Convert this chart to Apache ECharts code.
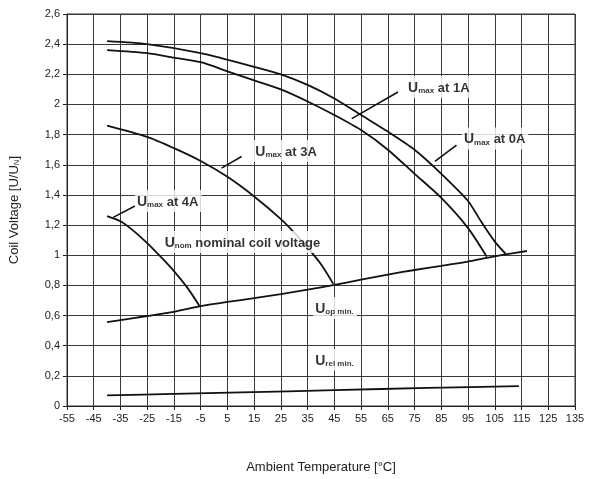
<!DOCTYPE html>
<html><head><meta charset="utf-8">
<script src="https://cdn.jsdelivr.net/npm/echarts@6/dist/echarts.min.js"></script>
<style>html,body{margin:0;padding:0;background:#fff}#c{width:594px;height:479px}</style>
</head><body><div id="c"></div>
<script>
// Axis settings
const xMin = -55, xMax = 135, xStep = 10;
const yMin = 0, yMax = 2.6, yStep = 0.2;

// U_max at 0A
const umax0A_T = [-40, -25, -5, 15, 25, 35, 45, 55, 65, 75, 85, 95, 100, 105, 109];
const umax0A_V = [2.42, 2.40, 2.34, 2.25, 2.20, 2.13, 2.04, 1.93, 1.82, 1.70, 1.54, 1.36, 1.22, 1.09, 1.01];
// U_max at 1A
const umax1A_T = [-40, -25, -15, -5, 5, 15, 25, 35, 45, 55, 65, 75, 85, 95, 102];
const umax1A_V = [2.36, 2.34, 2.31, 2.28, 2.22, 2.16, 2.10, 2.02, 1.93, 1.83, 1.70, 1.54, 1.38, 1.18, 0.99];
// U_max at 3A
const umax3A_T = [-40, -25, -15, -5, 5, 15, 25, 30, 35, 40, 44.6];
const umax3A_V = [1.86, 1.785, 1.71, 1.625, 1.52, 1.39, 1.24, 1.15, 1.05, 0.94, 0.81];
// U_max at 4A
const umax4A_T = [-40, -35, -30, -25, -20, -15, -10, -5.5];
const umax4A_V = [1.26, 1.225, 1.16, 1.08, 0.99, 0.895, 0.785, 0.665];
// U_op min
const uop_T = [-40, -25, -15, -5, 5, 15, 25, 35, 45, 55, 65, 75, 85, 95, 102, 109, 117];
const uop_V = [0.557, 0.597, 0.625, 0.662, 0.69, 0.715, 0.742, 0.772, 0.803, 0.838, 0.872, 0.902, 0.93, 0.958, 0.983, 1.005, 1.028];
// U_rel min
const urel_T = [-40, -15, 10, 45, 80, 114];
const urel_V = [0.07, 0.08, 0.09, 0.105, 0.12, 0.132];

// Annotation labels: [T, V] anchor (left-middle) and text pieces
const annoNames = ['1A', '0A', '3A', '4A', 'nom', 'op', 'rel'];
const annoT = [71.8, 92.7, 14.7, -29.6, -19.2, 37.1, 37.1];
const annoV = [2.115, 1.775, 1.692, 1.36, 1.087, 0.65, 0.306];
const annoSub = ['max', 'max', 'max', 'max', 'nom', 'op min.', 'rel min.'];
const annoRest = [' at 1A', ' at 0A', ' at 3A', ' at 4A', ' nominal coil voltage', '', ''];
// Pointer lines: [T1, V1, T2, V2]
const pointers = [
  [68.8, 2.083, 51.5, 1.906],
  [90.7, 1.731, 82.6, 1.622],
  [10.3, 1.655, 2.8, 1.578],
  [-29.6, 1.327, -37.7, 1.251]
];

const zip = (a, b) => a.map((t, i) => [t, b[i]]);
const curveStyle = { color: '#111', width: 1.8 };
function curve(name, T, V) {
  return { name, type: 'line', data: zip(T, V), showSymbol: false, symbol: 'none',
    smooth: 0.25, lineStyle: curveStyle, z: 3, silent: true };
}

const series = [
  curve('Umax0A', umax0A_T, umax0A_V),
  curve('Umax1A', umax1A_T, umax1A_V),
  curve('Umax3A', umax3A_T, umax3A_V),
  curve('Umax4A', umax4A_T, umax4A_V),
  curve('Uop', uop_T, uop_V),
  curve('Urel', urel_T, urel_V)
];
pointers.forEach((p, i) => {
  series.push({ type: 'line', data: [[p[0], p[1]], [p[2], p[3]]], symbol: 'none',
    lineStyle: { color: '#111', width: 1.6 }, z: 4, silent: true });
});
series.push({
  type: 'scatter', symbolSize: 0, z: 10, silent: true,
  data: annoNames.map((n, i) => ({ value: [annoT[i], annoV[i]],
    label: { formatter: '{u|U}{s|' + annoSub[i] + '}' + (annoRest[i] ? '{t|' + annoRest[i] + '}' : '') } })),
  label: {
    show: true, position: 'right', distance: 0,
    backgroundColor: '#fff', padding: [3, 3, 3, 2],
    rich: {
      u: { fontSize: 14, fontWeight: 'bold', color: '#000', fontFamily: 'Liberation Sans', lineHeight: 16, verticalAlign: 'bottom' },
      s: { fontSize: 8, fontWeight: 'bold', color: '#000', fontFamily: 'Liberation Sans', lineHeight: 12, verticalAlign: 'bottom', padding: [4, 0, 0, 0] },
      t: { fontSize: 13, fontWeight: 'bold', color: '#000', fontFamily: 'Liberation Sans', lineHeight: 16, verticalAlign: 'bottom' }
    }
  }
});

const chart = echarts.init(document.getElementById('c'), null, { renderer: 'canvas' });
chart.setOption({
  animation: false,
  backgroundColor: '#fff',
  grid: { left: 67, right: 19, top: 14, bottom: 68, show: true, borderColor: '#333', borderWidth: 1 },
  xAxis: {
    type: 'value', min: xMin, max: xMax, interval: xStep,
    name: 'Ambient Temperature [°C]', nameLocation: 'middle', nameGap: 55,
    nameTextStyle: { fontSize: 13, color: '#222', fontFamily: 'Liberation Sans' },
    axisLine: { show: true, onZero: false, lineStyle: { color: '#222', width: 1 } },
    axisTick: { show: true, length: 4, lineStyle: { color: '#222' } },
    axisLabel: { fontSize: 11, color: '#222', fontFamily: 'Liberation Sans', margin: 7 },
    splitLine: { show: true, lineStyle: { color: '#3a3a3a', width: 1 } }
  },
  yAxis: {
    type: 'value', min: yMin, max: yMax, interval: yStep,
    name: '{a|Coil Voltage [U/U}{b|N}{a|]}', nameLocation: 'middle', nameGap: 46, nameRotate: 90,
    nameTextStyle: { rich: {
      a: { fontSize: 13, color: '#222', fontFamily: 'Liberation Sans' },
      b: { fontSize: 8, color: '#222', fontFamily: 'Liberation Sans', padding: [5, 0, 0, 0] }
    } },
    axisLine: { show: true, onZero: false, lineStyle: { color: '#222', width: 1 } },
    axisTick: { show: true, length: 4, lineStyle: { color: '#222' } },
    axisLabel: { fontSize: 11, color: '#222', fontFamily: 'Liberation Sans', margin: 7,
      formatter: v => String(Math.round(v * 10) / 10).replace('.', ',') },
    splitLine: { show: true, lineStyle: { color: '#3a3a3a', width: 1 } }
  },
  series
});
</script>
</body></html>
